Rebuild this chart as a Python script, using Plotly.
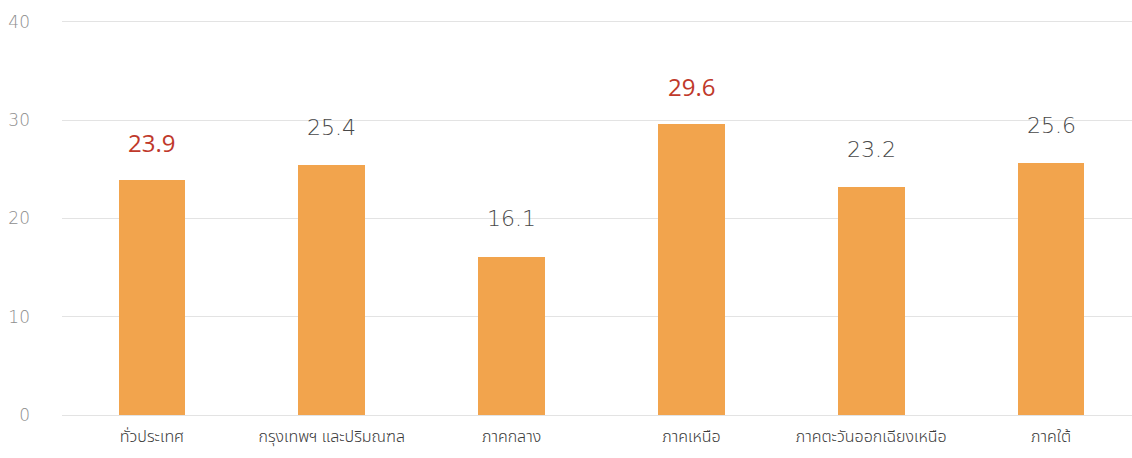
import plotly.graph_objects as go

regions = ["ทั่วประเทศ", "กรุงเทพฯ และปริมณฑล", "ภาคกลาง", "ภาคเหนือ", "ภาคตะวันออกเฉียงเหนือ", "ภาคใต้"]
values = [23.9, 25.4, 16.1, 29.6, 23.2, 25.6]
highlight = [True, False, False, True, False, False]
y_ticks = [0, 10, 20, 30, 40]

BAR = "#F2A44D"
RED = "#C0392B"
GREY_LABEL = "#484848"
THAI_FONT = "Noto Sans Thai, Noto Sans, sans-serif"
NUM_FONT = "DejaVu Sans, sans-serif"
RED_FONT = "Open Sans, sans-serif"

fig = go.Figure(
    go.Bar(
        x=list(range(len(regions))),
        y=values,
        marker=dict(color=BAR, line=dict(width=0)),
        width=0.37,
        hoverinfo="skip",
    )
)

for i, (v, h) in enumerate(zip(values, highlight)):
    if h:
        font = dict(family=RED_FONT, size=24, color=RED, weight=500)
    else:
        font = dict(family=NUM_FONT, size=22, color=GREY_LABEL, weight=200)
    fig.add_annotation(
        x=i, y=v, text=f"{v:.1f}", showarrow=False,
        yshift=38, xanchor="center", yanchor="middle", font=font,
    )

fig.update_layout(
    width=1132, height=458,
    margin=dict(l=62, r=0, t=12, b=33),
    plot_bgcolor="white", paper_bgcolor="white",
    showlegend=False,
    bargap=0,
    xaxis=dict(
        range=[-0.5, 5.45],
        tickmode="array", tickvals=list(range(len(regions))), ticktext=regions,
        showgrid=False, zeroline=False, showline=False,
        ticks="", ticklabelstandoff=0,
        tickfont=dict(family=THAI_FONT, size=16, color="#3A3A3A", weight=300),
    ),
    yaxis=dict(
        range=[-1, 41], tickvals=y_ticks,
        showgrid=True, gridcolor="#E3E3E3", gridwidth=1,
        zeroline=False, showline=False, ticks="",
        ticklabelstandoff=31,
        tickfont=dict(family=NUM_FONT, size=17, color="#8E8E8E", weight=200),
    ),
)

fig.write_html("out.html")
